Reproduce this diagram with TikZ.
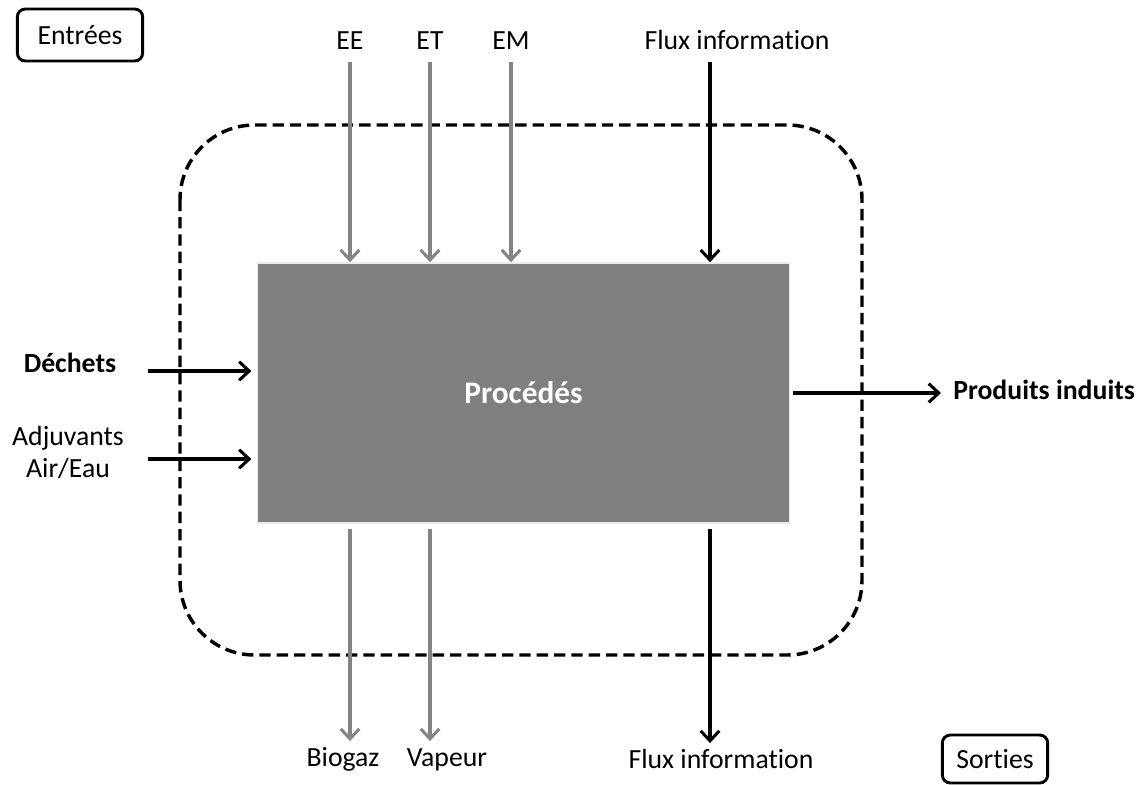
\documentclass[tikz,border=0pt]{standalone}
\usepackage{fontspec}
\setmainfont{Carlito}[Ligatures=NoCommon]
\usetikzlibrary{arrows.meta, positioning, calc}
\definecolor{procgris}{HTML}{7F7F7F}
\definecolor{flechegris}{HTML}{848484}

\begin{document}
\begin{tikzpicture}[
    x=0.75pt, y=-0.75pt,
    every node/.style={font=\fontsize{20.8}{24}\selectfont},
    proc/.style={rectangle, fill=procgris, draw=black!8, line width=1.2pt,
                 minimum width=399pt, minimum height=195pt, text=white,
                 font=\fontsize{23.5}{26}\selectfont\bfseries},
    tag/.style={rectangle, rounded corners=6pt, draw=black, line width=2.2pt,
                inner sep=0pt},
    lbl/.style={inner xsep=3pt, inner ysep=5pt, text height=14pt,
                text depth=4pt, align=center},
    limite/.style={draw=black, line width=2.6pt, dash pattern=on 8.5pt off 4.5pt,
                   rounded corners=56pt},
    arr/.style={-{Straight Barb[length=7.5pt,width=14pt]}, line width=2.3pt},
    garr/.style={arr, draw=flechegris}
  ]
  \useasboundingbox (0,0) rectangle (1142,785);

  % frontiere du systeme
  \draw[limite] (180,125) rectangle (862,655);

  \node[proc] (proc) at (523.5,393) {Procédés};
  \node[tag, minimum width=94pt, minimum height=39pt] (entrees) at (80,35) {Entrées};
  \node[tag, minimum width=79pt, minimum height=36pt] (sorties) at (995,759) {Sorties};

  % entrees par le haut
  \node[lbl] (ee) at (350,43) {EE};
  \node[lbl] (et) at (430,43) {ET};
  \node[lbl] (em) at (511,43) {EM};
  \node[lbl] (fluxin) at (737,43) {Flux information};
  \coordinate (fx) at (710,0);

  \draw[garr] (ee) -- (ee |- proc.north);
  \draw[garr] (et) -- (et |- proc.north);
  \draw[garr] (em) -- (em |- proc.north);
  \draw[arr] (fluxin.south -| fx) -- (proc.north -| fx);

  % entrees laterales
  \node[lbl, font=\fontsize{20.8}{24}\selectfont\bfseries] (dechets) at (70,366) {Déchets};
  \node[lbl, text height=, text depth=] (adj) at (68,452) {Adjuvants\\Air/Eau};
  \coordinate (dech) at (148,371);
  \coordinate (adjc) at (148,459);
  \draw[arr, shorten >=4pt] (dech) -- (dech -| proc.west);
  \draw[arr, shorten >=4pt] (adjc) -- (adjc -| proc.west);

  % sortie laterale
  \node[lbl, anchor=west, font=\fontsize{20.8}{24}\selectfont\bfseries] (prod) at (949,393) {Produits induits};
  \draw[arr, shorten <=2pt, shorten >=6pt] (proc.east) -- (prod.west);

  % sorties par le bas
  \node[lbl] (biogaz) at (343,760) {Biogaz};
  \node[lbl] (vapeur) at (447,760) {Vapeur};
  \node[lbl] (fluxout) at (721,762) {Flux information};
  \coordinate (bio) at (350,0);
  \coordinate (vap) at (430,0);

  \draw[garr, shorten <=4pt] (proc.south -| bio) -- (biogaz.north -| bio);
  \draw[garr, shorten <=4pt] (proc.south -| vap) -- (vapeur.north -| vap);
  \draw[arr, shorten <=4pt] (proc.south -| fx) -- (fluxout.north -| fx);
\end{tikzpicture}
\end{document}
